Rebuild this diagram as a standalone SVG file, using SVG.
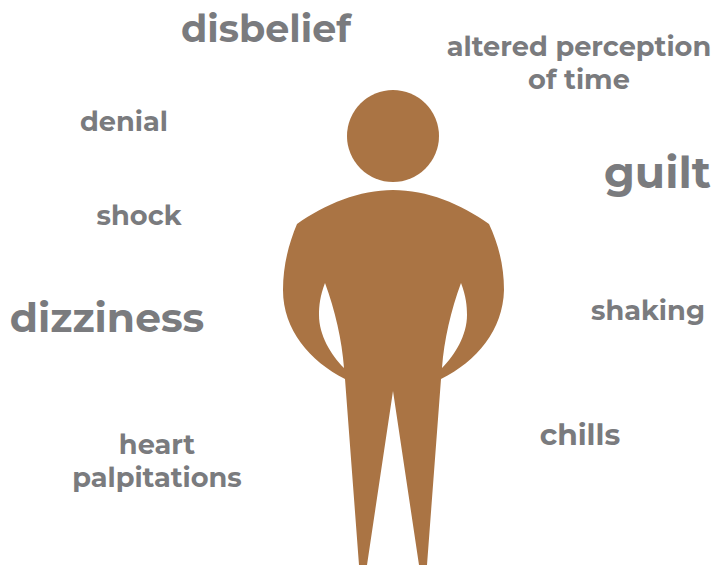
<svg xmlns="http://www.w3.org/2000/svg" width="715" height="565" viewBox="0 0 715 565">
<style>
text{font-family:Montserrat,"Open Sans","Liberation Sans",sans-serif;font-weight:700;fill:#7a7b7e;text-anchor:middle}
.s{font-size:27.2px}.c{font-size:29.7px}.d{font-size:38.1px}.z{font-size:40.8px}.g{font-size:44.2px}
</style>
<rect width="715" height="565" fill="#fff"/>
<g id="person" fill="#aa7444">
<circle cx="393" cy="136" r="46"/>
<path fill-rule="evenodd" d="M297 224C325 204 360 190 393 190C427 190 461 204 489 224C498 243 504 265 504 290C503 330 477 361 441 379L427 565H419L393 391L367 565H359L345 379C310 361 283 330 283 290C283 265 289 243 297 224ZM325 283C320 296 319 306 319 315C319 335 331 355 344 368C342 340 335 310 325 283ZM461 283C466 296 467 306 467 315C467 335 455 355 442 368C444 340 451 310 461 283Z"/>
</g>
<g id="labels">
<text class="d" x="266" y="42">disbelief</text>
<text class="s" x="579" y="56">altered perception</text>
<text class="s" x="579" y="89">of time</text>
<text class="s" x="124" y="131">denial</text>
<text class="g" x="657.500" y="188">guilt</text>
<text class="s" x="139" y="225">shock</text>
<text class="z" x="107" y="332">dizziness</text>
<text class="s" x="648" y="320">shaking</text>
<text class="c" x="580" y="445">chills</text>
<text class="s" x="157" y="454">heart</text>
<text class="s" x="157" y="487">palpitations</text>
</g>
</svg>
